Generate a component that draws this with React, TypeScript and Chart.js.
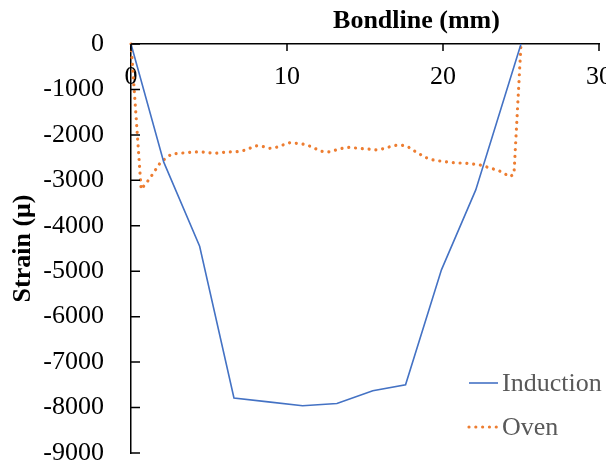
import React, { useEffect, useRef } from "react";
import { Chart, registerables } from "chart.js";

Chart.register(...registerables);

// Axis ticks
const xTicks = [0, 10, 20, 30];
const yTicks = [0, -1000, -2000, -3000, -4000, -5000, -6000, -7000, -8000, -9000];

// Induction-cured joint: strain along the bondline (mm, µε)
const inductionX = [0, 2.1, 4.4, 6.6, 8.8, 11.0, 13.2, 15.5, 17.6, 19.9, 22.1, 25.0];
const inductionY = [0, -2600, -4450, -7790, -7875, -7960, -7910, -7630, -7500, -4970, -3210, 0];

// Oven-cured joint
const ovenX = [
  0, 0.65, 1.2, 1.9, 2.6, 3.1, 3.6, 4.1, 4.5, 4.95, 5.4, 5.8, 6.2, 6.8, 7.2, 7.6, 8.0, 8.5, 8.9, 9.3,
  9.75, 10.2, 10.6, 11.0, 11.45, 11.8, 12.2, 12.7, 13.15, 13.6, 14.0, 14.45, 14.85, 15.3, 15.7, 16.15,
  16.6, 17.0, 17.4, 17.75, 18.05, 18.5, 18.9, 19.35, 19.8, 20.6, 21.5, 22.3, 22.75, 23.6, 24.3, 24.55, 25.0,
];
const ovenY = [
  0, -3200, -2960, -2600, -2420, -2405, -2390, -2375, -2375, -2390, -2405, -2390, -2375, -2370, -2345,
  -2295, -2240, -2260, -2295, -2275, -2220, -2170, -2185, -2200, -2245, -2300, -2360, -2375, -2330, -2290,
  -2275, -2290, -2305, -2315, -2330, -2305, -2260, -2230, -2230, -2260, -2330, -2420, -2500, -2550, -2575,
  -2610, -2625, -2655, -2700, -2790, -2920, -2860, 0,
];

const FONT = "'Liberation Serif', 'Times New Roman', serif";
const BLUE = "#4472C4";
const ORANGE = "#ED7D31";
const DOT_DASH = [0.01, 6.8];

const toPoints = (xs: number[], ys: number[]) => xs.map((x, i) => ({ x, y: ys[i] }));

// Inward tick marks, the top axis title and the in-plot legend
const decorations = {
  id: "decorations",
  afterDraw(chart: any) {
    const { ctx, chartArea, scales } = chart;
    const xs = scales.x;
    const ys = scales.y;
    const axisY = ys.getPixelForValue(0);
    const axisX = xs.getPixelForValue(0);
    ctx.save();
    ctx.strokeStyle = "#000";
    ctx.lineWidth = 1.5;
    ctx.beginPath();
    xTicks.forEach((v) => {
      const px = xs.getPixelForValue(v);
      ctx.moveTo(px, axisY);
      ctx.lineTo(px, axisY + 7);
    });
    yTicks.forEach((v) => {
      const py = ys.getPixelForValue(v);
      ctx.moveTo(axisX, py);
      ctx.lineTo(axisX + 9, py);
    });
    ctx.stroke();

    ctx.fillStyle = "#000";
    ctx.font = `bold 26px ${FONT}`;
    ctx.textAlign = "center";
    ctx.textBaseline = "alphabetic";
    ctx.fillText("Bondline (mm)", xs.getPixelForValue(18.3), axisY - 16.5);

    // legend
    const x0 = chartArea.right - 130;
    const x1 = chartArea.right - 101;
    const rows = [chartArea.bottom - 70, chartArea.bottom - 26];
    chart.data.datasets.forEach((ds: any, i: number) => {
      const y = rows[i];
      ctx.save();
      ctx.strokeStyle = ds.borderColor;
      ctx.lineWidth = ds.borderWidth;
      ctx.lineCap = ds.borderCapStyle || "butt";
      ctx.setLineDash(ds.borderDash || []);
      ctx.beginPath();
      ctx.moveTo(x0, y);
      ctx.lineTo(x1, y);
      ctx.stroke();
      ctx.restore();
      ctx.fillStyle = "#595959";
      ctx.font = `26px ${FONT}`;
      ctx.textAlign = "left";
      ctx.textBaseline = "middle";
      ctx.fillText(ds.label, x1 + 4, y + 1);
    });
    ctx.restore();
  },
};

export default function App() {
  const canvasRef = useRef<HTMLCanvasElement | null>(null);

  useEffect(() => {
    if (!canvasRef.current) return;
    const chart = new Chart(canvasRef.current, {
      type: "line",
      data: {
        datasets: [
          {
            label: "Induction",
            data: toPoints(inductionX, inductionY),
            borderColor: BLUE,
            borderWidth: 1.6,
            pointRadius: 0,
            tension: 0,
            clip: 6,
          },
          {
            label: "Oven",
            data: toPoints(ovenX, ovenY),
            borderColor: ORANGE,
            borderWidth: 3.2,
            borderDash: DOT_DASH,
            borderCapStyle: "round",
            pointRadius: 0,
            tension: 0,
            clip: 6,
          },
        ],
      },
      options: {
        animation: false,
        responsive: true,
        maintainAspectRatio: false,
        layout: { padding: { top: 36, right: 15, bottom: 8, left: 0 } },
        plugins: {
          legend: { display: false },
          tooltip: { enabled: false },
          title: { display: false },
        },
        scales: {
          x: {
            type: "linear",
            position: { y: 0 } as any,
            min: 0,
            max: 30,
            afterBuildTicks: (scale: any) => {
              scale.ticks = xTicks.map((value) => ({ value }));
            },
            afterFit: (scale: any) => {
              scale.height = 0;
              scale.paddingLeft = 0;
              scale.paddingRight = 0;
            },
            grid: { drawOnChartArea: false, drawTicks: false },
            border: { display: true, color: "#000", width: 1.5 },
            ticks: {
              color: "#000",
              font: { family: FONT, size: 26 },
              padding: 17.5,
              maxRotation: 0,
              callback: (v: any) => String(v),
            },
          },
          y: {
            type: "linear",
            min: -9000,
            max: 0,
            afterBuildTicks: (scale: any) => {
              scale.ticks = yTicks.map((value) => ({ value }));
            },
            afterFit: (scale: any) => {
              scale.width = 123;
              scale.paddingTop = 0;
              scale.paddingBottom = 0;
            },
            grid: { drawOnChartArea: false, drawTicks: false },
            border: { display: true, color: "#000", width: 1.5 },
            ticks: {
              color: "#000",
              font: { family: FONT, size: 26 },
              padding: 27,
              callback: (v: any) => String(v),
            },
            title: {
              display: true,
              text: "Strain (\u03bc)",
              color: "#000",
              font: { family: FONT, size: 26, weight: "bold" },
              padding: 0,
            },
          },
        },
      },
      plugins: [decorations],
    });
    return () => chart.destroy();
  }, []);

  return (
    <div style={{ width: 606, height: 453, position: "relative" }}>
      <canvas ref={canvasRef} />
    </div>
  );
}
